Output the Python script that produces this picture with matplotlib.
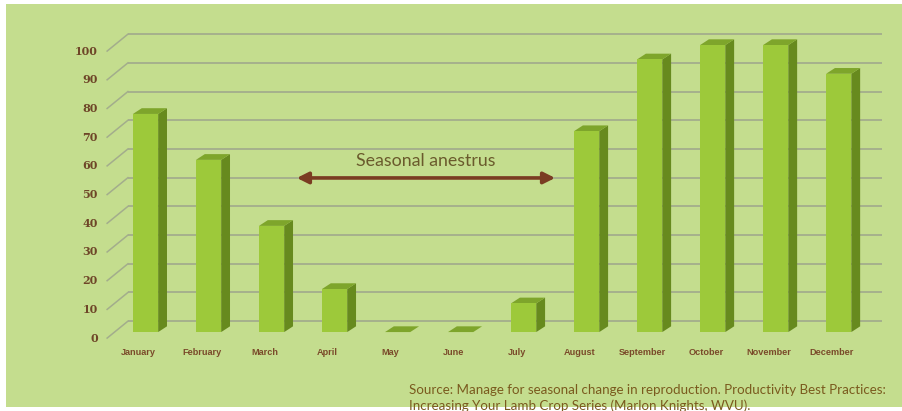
import numpy as np
import matplotlib.pyplot as plt
from matplotlib.patches import Polygon, Rectangle

# ewe breeding activity by month (%)
months = ["January", "February", "March", "April", "May", "June", "July",
          "August", "September", "October", "November", "December"]
activity = [76, 60, 37, 15, 0, 0, 10, 70, 95, 100, 100, 90]
yticks = [0, 10, 20, 30, 40, 50, 60, 70, 80, 90, 100]

bg = "#c4dd8e"
front_col = "#9dc93a"
side_col = "#678a1e"
top_col = "#7ea52b"
brown = "#6e4628"
grid_col = "#a3ad8c"

fig = plt.figure(figsize=(9.03, 4.11), dpi=100)
fig.patch.set_facecolor("white")
ax = fig.add_axes([0, 0, 1, 1])
ax.set_xlim(-2.31, 12.02)
ax.set_ylim(-27.5, 115.7)
ax.axis("off")

# green panel with thin white border
ax.add_patch(Rectangle((0.0066, 0.01), 0.995, 0.98, transform=ax.transAxes,
                       facecolor=bg, edgecolor="none", zorder=0))

# fake 3d: back wall gridlines and the diagonals to the front
back_dy = 3.8
front_dy = -2.1
for v in yticks:
    ax.plot([-0.28, 11.69], [v + back_dy, v + back_dy], color=grid_col,
            lw=1.3, zorder=1, solid_capstyle="butt")
    ax.plot([-0.61, -0.28], [v + front_dy, v + back_dy], color=grid_col,
            lw=1.1, zorder=1)
    ax.text(-0.76, v + front_dy, str(v), ha="right", va="center",
            fontsize=8, fontweight="bold", color=brown,
            family="DejaVu Serif")

# bars: front face, side and top
w = 0.2
ddx, ddy = 0.14, 2.0
for i, v in enumerate(activity):
    ax.add_patch(Polygon([(i + w, 0), (i + w + ddx, ddy),
                          (i + w + ddx, v + ddy), (i + w, v)],
                         facecolor=side_col, edgecolor="none", zorder=3))
    ax.add_patch(Polygon([(i - w, v), (i - w + ddx, v + ddy),
                          (i + w + ddx, v + ddy), (i + w, v)],
                         facecolor=top_col, edgecolor="none", zorder=3))
    if v > 0:
        ax.bar(i, v, width=2 * w, color=front_col, edgecolor="none", zorder=4)
    ax.text(i - 0.11, -7, months[i], ha="center", va="center", fontsize=6.6,
            fontweight="bold", color="#7a4a2a", family="Liberation Sans")

# anestrus span
ax.annotate("", xy=(6.5, 53.7), xytext=(2.4, 53.7),
            arrowprops=dict(arrowstyle="<|-|>", color="#7a3c22", lw=2.6,
                            mutation_scale=17, shrinkA=0, shrinkB=0),
            zorder=5)
ax.text(4.44, 59.5, "Seasonal anestrus", ha="center", va="center",
        fontsize=12.8, color="#6a5a2c", family="Lato")

src_kw = dict(ha="left", va="center", fontsize=9.6, color="#7a5a1e",
              family="Lato")
fig.text(409 / 903, 1 - 390 / 411,
         "Source: Manage for seasonal change in reproduction. Productivity Best Practices:",
         **src_kw)
fig.text(409 / 903, 1 - 406 / 411,
         "Increasing Your Lamb Crop Series (Marlon Knights, WVU).", **src_kw)

fig.savefig("out.png", dpi=100, facecolor=fig.get_facecolor())
